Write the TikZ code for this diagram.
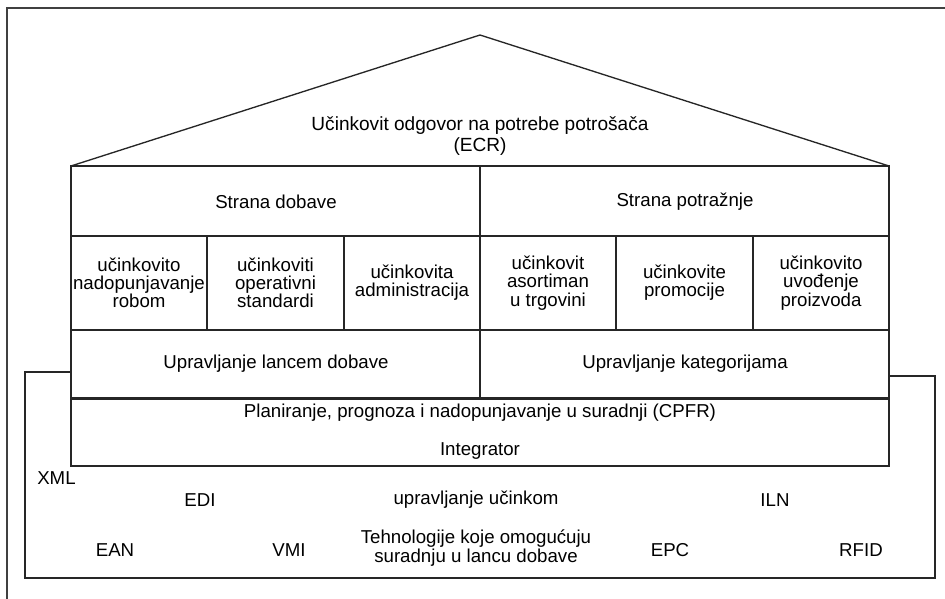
\documentclass[tikz,border=0pt]{standalone}
\usepackage{fontspec}
\setmainfont{Liberation Sans}
\begin{document}
\begin{tikzpicture}[x=0.75pt,y=-0.75pt,
  line/.style={draw=black!85, line width=1pt},
  frame/.style={draw=black!75, line width=1.3pt},
  lbl/.style={inner sep=0pt, align=center, font=\fontsize{14}{13.7}\selectfont},
  ttl/.style={inner sep=0pt, align=center, font=\fontsize{14.3}{15.8}\selectfont}]
\useasboundingbox (0,0) rectangle (945,599);
% outer frame (top and left visible)
\draw[frame] (7,599) -- (7,8) -- (945,8);
% house
\draw[line] (71,166) -- (480,35) -- (889,166);
\draw[line] (71,166) rectangle (889,398);
\draw[line] (71,236) -- (889,236);
\draw[line] (71,330) -- (889,330);
\draw[line] (480,166) -- (480,398);
\foreach \x in {207,344,616,753} \draw[line] (\x,236) -- (\x,330);
% CPFR box
\draw[line] (71,466) rectangle (889,399);
\draw[line, line width=1.5pt] (71,399) -- (889,399);
% bottom technology box
\draw[line] (71,372) -- (25,372) -- (25,578) -- (935,578) -- (935,376) -- (889,376);
% texts
\node[ttl] (ecr) at (480,136) {Učinkovit odgovor na potrebe potrošača\\(ECR)};
\node[lbl] (sd) at (276,202) {Strana dobave};
\node[lbl] (sp) at (685,202) {Strana potražnje};
\node[lbl] (c1) at (139,283) {učinkovito\\nadopunjavanje\\robom};
\node[lbl] (c2) at (275.5,283) {učinkoviti\\operativni\\standardi};
\node[lbl] (c3) at (412,283) {učinkovita\\administracija};
\node[lbl] (c4) at (548,283) {učinkovit\\asortiman\\u trgovini};
\node[lbl] (c5) at (684.5,283) {učinkovite\\promocije};
\node[lbl] (c6) at (821,283) {učinkovito\\uvođenje\\proizvoda};
\node[lbl] (ul) at (276,364) {Upravljanje lancem dobave};
\node[lbl] (uk) at (685,364) {Upravljanje kategorijama};
\node[lbl] (cpfr) at (480,413) {Planiranje, prognoza i nadopunjavanje u suradnji (CPFR)};
\node[lbl] (int) at (480,451) {Integrator};
\node[lbl, anchor=west] (xml) at (37,478) {XML};
\node[lbl] (edi) at (200,500) {EDI};
\node[lbl] (uu) at (476,500) {upravljanje učinkom};
\node[lbl] (iln) at (775,500) {ILN};
\node[lbl] (ean) at (115,550) {EAN};
\node[lbl] (vmi) at (289,550) {VMI};
\node[lbl, font=\fontsize{14}{12}\selectfont] (teh) at (476,548) {Tehnologije koje omogućuju\\suradnju u lancu dobave};
\node[lbl] (epc) at (670,550) {EPC};
\node[lbl] (rfid) at (861,550) {RFID};
\end{tikzpicture}
\end{document}
